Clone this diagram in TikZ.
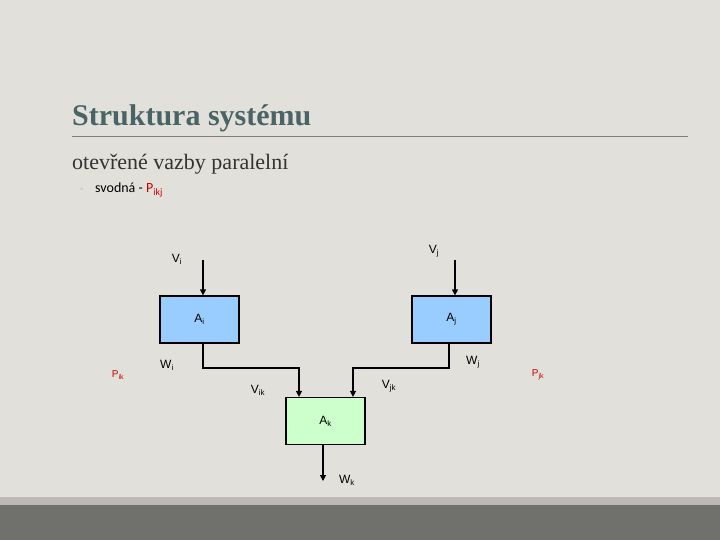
\documentclass[tikz,border=0pt]{standalone}
\usepackage{fontspec}
\setmainfont{Liberation Serif}
\newfontfamily\labfont{Liberation Sans}
\newfontfamily\calfont{Carlito}
\usetikzlibrary{arrows.meta}
\definecolor{bg}{HTML}{E1E0DA}
\definecolor{titc}{HTML}{4A6466}
\definecolor{boxb}{HTML}{99CCFF}
\definecolor{boxg}{HTML}{CCFFCC}
\definecolor{pred}{HTML}{CC0000}
\begin{document}
\begin{tikzpicture}[x=1pt,y=-1pt,
  blk/.style={draw,line width=1.2pt,minimum width=79pt,minimum height=47pt,inner sep=0pt,font=\labfont\fontsize{12}{14}\selectfont},
  lbl/.style={font=\labfont\fontsize{12}{14}\selectfont,inner sep=0pt},
  plbl/.style={font=\labfont\fontsize{10}{12}\selectfont,text=pred,inner sep=0pt},
  con/.style={line width=1.2pt,-{Triangle[length=6pt,width=6pt]}}]
\fill[bg] (0,0) rectangle (720,540);
\useasboundingbox (0,0) rectangle (720,540);
\fill[gray!40!bg] (0,497) rectangle (720,505);
\fill[black!50!bg] (0,505) rectangle (720,540);
\node[anchor=base west,inner sep=0pt,text=titc,font=\fontsize{30}{34}\selectfont\bfseries] (title) at (72,126) {Struktura systému};
\draw[gray,line width=0.8pt] (72,136) -- (688,136);
\node[anchor=base west,inner sep=0pt,text=black!80,font=\fontsize{22}{26}\selectfont] (sub) at (72,170) {otevřené vazby paralelní};
\node[anchor=base west,inner sep=0pt,text=gray!60,font=\labfont\fontsize{10}{12}\selectfont] (bul) at (80,193) {◦};
\node[anchor=base west,inner sep=0pt,font=\calfont\fontsize{14}{16}\selectfont] (bt) at (95,193) {svodná - \textcolor{pred}{P\textsubscript{ikj}}};
\node[blk,fill=boxb] (Ai) at (199.5,319.5) {A\textsubscript{i}};
\node[blk,fill=boxb] (Aj) at (451.5,319.5) {A\textsubscript{j}};
\node[blk,fill=boxg] (Ak) at (325.5,421) {A\textsubscript{k}};
\coordinate (vi) at (203,260);
\coordinate (vj) at (455,260);
\coordinate (wk) at (323,481);
\coordinate (xi) at (203,0);
\coordinate (xj) at (449,0);
\coordinate (xik) at (299,0);
\coordinate (xjk) at (353,0);
\coordinate (xk) at (323,0);
\coordinate (mi) at (203,368);
\coordinate (mi2) at (299,368);
\coordinate (mj) at (449,368);
\coordinate (mj2) at (353,368);
\draw[con] (vi) -- (vi |- Ai.north);
\draw[con] (vj) -- (vj |- Aj.north);
\draw[con] (Ai.south -| xi) -- (mi) -- (mi2) -- (Ak.north -| xik);
\draw[con] (Aj.south -| xj) -- (mj) -- (mj2) -- (Ak.north -| xjk);
\draw[con] (Ak.south -| xk) -- (wk);
\node[lbl] (lvi) at (177,259) {V\textsubscript{i}};
\node[lbl] (lvj) at (434,251) {V\textsubscript{j}};
\node[lbl] (lwi) at (167,365) {W\textsubscript{i}};
\node[lbl] (lwj) at (473,362) {W\textsubscript{j}};
\node[lbl] (lvik) at (258,390) {V\textsubscript{ik}};
\node[lbl] (lvjk) at (389,386) {V\textsubscript{jk}};
\node[lbl] (lwk) at (347,480) {W\textsubscript{k}};
\node[plbl] (pik) at (118,375) {P\textsubscript{ik}};
\node[plbl] (pjk) at (538,375) {P\textsubscript{jk}};
\end{tikzpicture}
\end{document}
